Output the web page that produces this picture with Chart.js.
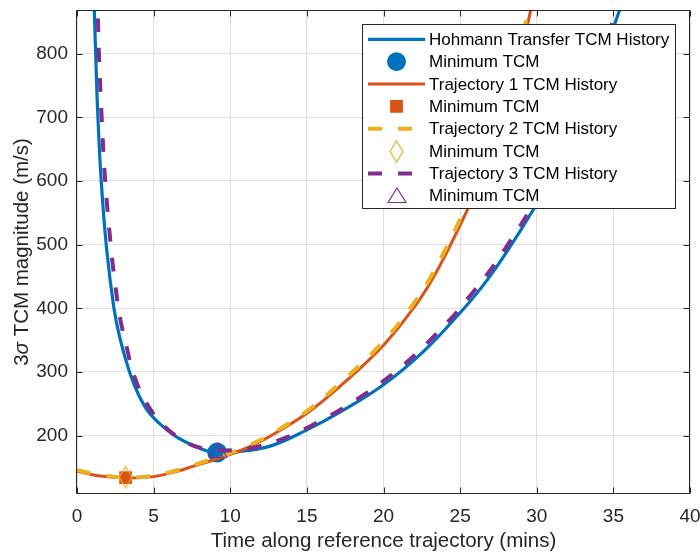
<!DOCTYPE html>
<html>
<head>
<meta charset="utf-8">
<script src="https://cdn.jsdelivr.net/npm/chart.js@4.4.0/dist/chart.umd.min.js"></script>
<style>
  html, body { margin: 0; padding: 0; background: #fff; }
  canvas { display: block; }
</style>
</head>
<body>
<canvas id="tcmChart" width="700" height="555"></canvas>
<script>
// time along reference trajectory (mins) vs 3-sigma TCM magnitude (m/s)
const hohmannTime = [1.0, 1.13, 1.21, 1.35, 1.58, 1.93, 2.41, 2.8, 3.41, 4.0, 4.65, 5.52, 6.49, 7.8, 8.55, 9.15, 10.4, 12.6, 15.0, 17.1, 20.0, 22.6, 25.0, 26.5, 28.0, 29.8, 31.0, 32.0, 33.0, 34.0, 35.4, 36.0];
const hohmannTcm = [1000, 868, 806, 708, 600, 494, 400, 353, 301, 265, 238, 216, 198, 182, 175.5, 173.5, 174.5, 183.5, 209, 236, 280, 332, 393, 436, 487, 556, 608, 658, 713, 774, 868, 913];

const traj1Time = [0, 1.0, 1.7, 3.17, 5.0, 6.6, 7.6, 8.8, 10.0, 11.2, 12.6, 15.0, 17.1, 20.0, 22.1, 23.1, 24.3, 25.5, 26.5, 27.5, 28.5, 29.6, 30.2];
const traj1Tcm = [144, 138.5, 136, 133.5, 135.6, 144.5, 152, 161, 170.5, 182, 199, 235, 276, 342, 405, 442, 496, 556, 611, 674, 752, 868, 937];

const traj2Time = [0, 1.0, 1.7, 3.17, 5.0, 6.6, 7.6, 8.8, 10.0, 11.2, 12.6, 15.0, 17.1, 20.0, 22.1, 23.1, 24.3, 25.5, 26.5, 27.5, 28.5, 29.45, 30.1];
const traj2Tcm = [146, 140, 137.5, 134.5, 137, 146, 153.5, 163, 172.5, 184.5, 201.5, 238.5, 281, 348, 412, 450, 505, 566, 622, 686, 768, 868, 945];

const traj3Time = [1.25, 1.35, 1.43, 1.61, 1.84, 2.24, 2.47, 2.8, 3.24, 3.73, 4.54, 5.73, 7.25, 8.3, 9.2, 10.5, 11.5, 13.2, 15.0, 18.2, 21.3, 24.2, 25.6, 27.0, 28.2, 29.6, 31.0, 32.0, 33.0, 34.0, 35.2, 35.8];
const traj3Tcm = [950, 868, 800, 700, 600, 490, 442, 386, 339, 294, 250.6, 214, 188, 179.5, 177, 177.5, 181, 193, 212, 256, 311, 378.5, 418, 461, 503, 556, 616, 667, 722, 784, 868, 915];

// minimum TCM points: Hohmann, Traj 1, Traj 2, Traj 3
const minTime = [9.15, 3.17, 3.17, 9.2];
const minTcm = [173.5, 134, 135, 177];

const xTicks = [0, 5, 10, 15, 20, 25, 30, 35, 40];
const yTicks = [200, 300, 400, 500, 600, 700, 800];

const legendLabels = [
    'Hohmann Transfer TCM History', 'Minimum TCM',
    'Trajectory 1 TCM History', 'Minimum TCM',
    'Trajectory 2 TCM History', 'Minimum TCM',
    'Trajectory 3 TCM History', 'Minimum TCM'
];

const colors = ['#0072BD', '#D95319', '#EDB120', '#7E2F8E'];
const FONT = '"Liberation Sans", Arial, Helvetica, sans-serif';
const AXIS_COLOR = '#262626';

function toPoints(xs, ys) {
    return xs.map((x, i) => ({ x: x, y: ys[i] }));
}

function makeMarker(w, h, draw) {
    const c = document.createElement('canvas');
    c.width = w;
    c.height = h;
    draw(c.getContext('2d'), w, h);
    return c;
}

const diamondImg = makeMarker(15, 23, (ctx, w, h) => {
    ctx.strokeStyle = colors[2];
    ctx.lineWidth = 1.2;
    ctx.beginPath();
    ctx.moveTo(w / 2, 1);
    ctx.lineTo(w - 1, h / 2);
    ctx.lineTo(w / 2, h - 1);
    ctx.lineTo(1, h / 2);
    ctx.closePath();
    ctx.stroke();
});

const triangleImg = makeMarker(20, 17, (ctx, w, h) => {
    ctx.strokeStyle = colors[3];
    ctx.lineWidth = 1.2;
    ctx.beginPath();
    ctx.moveTo(w / 2, 1);
    ctx.lineTo(w - 1, h - 1.5);
    ctx.lineTo(1, h - 1.5);
    ctx.closePath();
    ctx.stroke();
});

function lineSet(label, xs, ys, color, width, dash) {
    return {
        type: 'line',
        label: label,
        data: toPoints(xs, ys),
        borderColor: color,
        borderWidth: width,
        borderDash: dash,
        borderCapStyle: 'butt',
        pointRadius: 0,
        fill: false,
        tension: 0.4,
        clip: 0
    };
}

function markerSet(label, i, style, radius, fillColor, strokeColor) {
    return {
        type: 'line',
        label: label,
        data: [{ x: minTime[i], y: minTcm[i] }],
        showLine: false,
        pointStyle: style,
        pointRadius: radius,
        pointBackgroundColor: fillColor,
        pointBorderColor: strokeColor,
        pointBorderWidth: 0,
        clip: false
    };
}

const datasets = [
    lineSet(legendLabels[0], hohmannTime, hohmannTcm, colors[0], 3.2, []),
    markerSet(legendLabels[1], 0, 'circle', 10, colors[0], colors[0]),
    lineSet(legendLabels[2], traj1Time, traj1Tcm, colors[1], 3, []),
    markerSet(legendLabels[3], 1, 'rect', 9, colors[1], colors[1]),
    lineSet(legendLabels[4], traj2Time, traj2Tcm, colors[2], 4, [14, 16]),
    markerSet(legendLabels[5], 2, diamondImg, 5, colors[2], colors[2]),
    lineSet(legendLabels[6], traj3Time, traj3Tcm, colors[3], 4, [14, 16]),
    markerSet(legendLabels[7], 3, triangleImg, 5, colors[3], colors[3])
];
// later series are drawn on top
datasets.forEach((d, i) => { d.order = datasets.length - i; });

function drawLegend(ctx) {
    const left = 362.5, top = 24.5, w = 313, h = 184;
    ctx.save();
    ctx.fillStyle = '#fff';
    ctx.fillRect(left, top, w, h);
    ctx.strokeStyle = AXIS_COLOR;
    ctx.lineWidth = 1;
    ctx.strokeRect(left, top, w, h);

    datasets.forEach((d, i) => {
        const rowY = 39.3 + i * 22.35;
        if (d.showLine === false) {
            const mx = 396.5;
            if (d.pointStyle === 'circle') {
                ctx.fillStyle = d.pointBackgroundColor;
                ctx.beginPath();
                ctx.arc(mx, rowY, 9.5, 0, Math.PI * 2);
                ctx.fill();
            } else if (d.pointStyle === 'rect') {
                ctx.fillStyle = d.pointBackgroundColor;
                ctx.fillRect(mx - 6.4, rowY - 6.4, 12.8, 12.8);
            } else {
                const img = d.pointStyle;
                ctx.drawImage(img, Math.round(mx - img.width / 2), Math.round(rowY - img.height / 2));
            }
        } else {
            ctx.strokeStyle = d.borderColor;
            ctx.lineWidth = d.borderWidth;
            ctx.setLineDash(d.borderDash);
            ctx.beginPath();
            ctx.moveTo(368, rowY);
            ctx.lineTo(425, rowY);
            ctx.stroke();
            ctx.setLineDash([]);
        }
        ctx.fillStyle = '#000';
        ctx.font = '17px ' + FONT;
        ctx.textAlign = 'left';
        ctx.textBaseline = 'middle';
        ctx.fillText(d.label, 429, rowY + 1);
    });
    ctx.restore();
}

const framePlugin = {
    id: 'matlabFrame',
    afterDraw(chart) {
        const { ctx, chartArea: a, scales } = chart;
        const L = Math.round(a.left) - 0.5;
        const R = Math.round(a.right) - 0.5;
        const T = Math.round(a.top) + 0.5;
        const B = Math.round(a.bottom) - 0.5;

        ctx.save();
        ctx.strokeStyle = AXIS_COLOR;
        ctx.lineWidth = 1;
        ctx.beginPath();
        ctx.rect(L, T, R - L, B - T);
        xTicks.forEach(v => {
            const px = Math.round(scales.x.getPixelForValue(v)) + 0.5;
            ctx.moveTo(px, B); ctx.lineTo(px, B - 6);
            ctx.moveTo(px, T); ctx.lineTo(px, T + 6);
        });
        yTicks.forEach(v => {
            const py = Math.round(scales.y.getPixelForValue(v)) + 0.5;
            ctx.moveTo(L, py); ctx.lineTo(L + 6, py);
            ctx.moveTo(R, py); ctx.lineTo(R - 6, py);
        });
        ctx.stroke();

        // axis titles
        ctx.fillStyle = AXIS_COLOR;
        ctx.font = '20.5px ' + FONT;
        ctx.textAlign = 'center';
        ctx.textBaseline = 'alphabetic';
        ctx.fillText('Time along reference trajectory (mins)', (a.left + a.right) / 2, 547);

        const parts = [
            { text: '3', font: '20.5px ' + FONT },
            { text: 'σ', font: 'italic 20.5px ' + FONT },
            { text: ' TCM magnitude (m/s)', font: '20.5px ' + FONT }
        ];
        let total = 0;
        parts.forEach(p => { ctx.font = p.font; p.w = ctx.measureText(p.text).width; total += p.w; });
        ctx.translate(27.5, (a.top + a.bottom) / 2);
        ctx.rotate(-Math.PI / 2);
        ctx.textAlign = 'left';
        let cx = -total / 2;
        parts.forEach(p => { ctx.font = p.font; ctx.fillText(p.text, cx, 0); cx += p.w; });
        ctx.restore();

        drawLegend(ctx);
    }
};

new Chart(document.getElementById('tcmChart').getContext('2d'), {
    type: 'line',
    data: { datasets: datasets },
    options: {
        responsive: false,
        animation: false,
        events: [],
        layout: { padding: { left: 0, top: 9, right: 9, bottom: 0 } },
        plugins: {
            legend: { display: false },
            tooltip: { enabled: false }
        },
        scales: {
            x: {
                type: 'linear',
                min: 0,
                max: 40,
                afterBuildTicks: s => { s.ticks = xTicks.map(v => ({ value: v })); },
                afterFit: s => { s.height = 61; s.paddingLeft = 0; s.paddingRight = 0; },
                ticks: { color: AXIS_COLOR, font: { family: FONT, size: 19 }, padding: 11, maxRotation: 0 },
                grid: { color: '#dfdfdf', drawTicks: false },
                border: { display: false }
            },
            y: {
                type: 'linear',
                min: 108.3,
                max: 868.5,
                afterBuildTicks: s => { s.ticks = yTicks.map(v => ({ value: v })); },
                afterFit: s => { s.width = 77; s.paddingTop = 0; s.paddingBottom = 0; },
                ticks: { color: AXIS_COLOR, font: { family: FONT, size: 19 }, padding: 9 },
                grid: { color: '#dfdfdf', drawTicks: false },
                border: { display: false }
            }
        }
    },
    plugins: [framePlugin]
});
</script>
</body>
</html>
